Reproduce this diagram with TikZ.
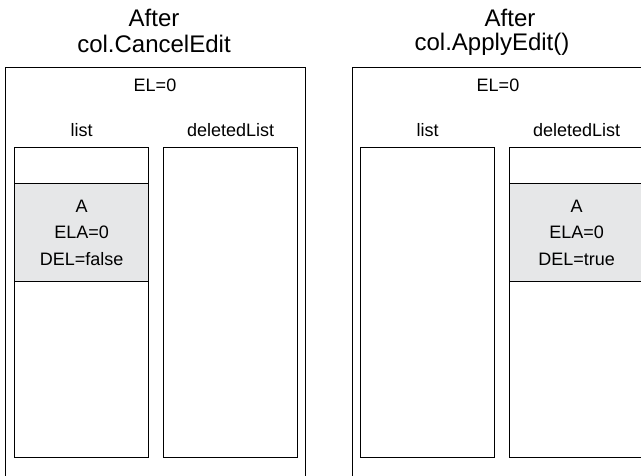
\documentclass[tikz,border=0pt]{standalone}
\usepackage{fontspec}
\setmainfont{Liberation Sans}
\usetikzlibrary{positioning}
\definecolor{recgray}{HTML}{E6E7E8}
\tikzset{
  panel/.style={draw=black,line width=1.2pt,minimum width=300pt,
                minimum height=430pt,anchor=north west,inner sep=0pt},
  column/.style={draw=black,line width=1.2pt,minimum width=134pt,
                 minimum height=310pt,anchor=north west,inner sep=0pt},
  entry/.style={column,fill=recgray,minimum height=98pt,align=center,
                font=\fontsize{18}{26.5}\selectfont},
  lbl/.style={font=\fontsize{18}{22}\selectfont,inner sep=0pt},
  heading/.style={font=\fontsize{24}{28}\selectfont,inner sep=0pt}
}

\begin{document}
\begin{tikzpicture}[x=1pt,y=-1pt]
  \clip (0,0) rectangle (641,475);
  % after CancelEdit
  \node[heading] (afterL) at (154,18) {After};
  \node[heading] (titleL) at (154,44) {col.CancelEdit};
  \node[panel] (panelL) at (5,67) {};
  \node[lbl] (elL) at (155,85) {EL=0};
  \node[column] (listL) at (14,147) {};
  \node[column] (delL) at (163,147) {};
  \node[lbl,above=10pt of listL] (listlblL) {list};
  \node[lbl,above=10pt of delL] (dellblL) {deletedList};
  \node[entry] (recL) at (14,183) {A\\ELA=0\\DEL=false};
  % after ApplyEdit
  \node[heading] (afterR) at (510,18) {After};
  \node[heading] (titleR) at (492,44) {col.ApplyEdit()};
  \node[panel] (panelR) at (352,67) {};
  \node[lbl] (elR) at (498,85) {EL=0};
  \node[column] (listR) at (360,147) {};
  \node[column] (delR) at (509,147) {};
  \node[lbl,above=10pt of listR] (listlblR) {list};
  \node[lbl,above=10pt of delR] (dellblR) {deletedList};
  \node[entry] (recR) at (509,183) {A\\ELA=0\\DEL=true};
\end{tikzpicture}
\end{document}
